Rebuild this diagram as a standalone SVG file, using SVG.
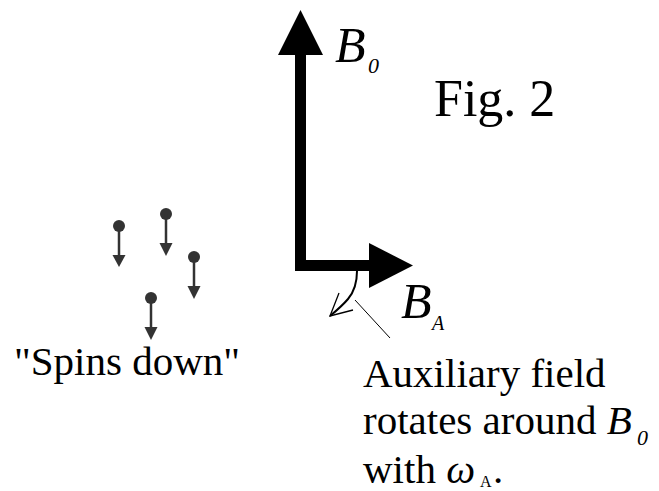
<svg xmlns="http://www.w3.org/2000/svg" width="659" height="491" viewBox="0 0 659 491">
<style>
.i{font-style:italic}
.spin{fill:#333;stroke:#333}
</style>
<rect width="659" height="491" fill="#fff"/>
<g id="connectors">
  <g id="B0-arrow">
    <rect x="295" y="54" width="11" height="217" fill="#000"/>
    <polygon points="300.5,10 278,55 323,55" fill="#000"/>
  </g>
  <g id="BA-arrow">
    <rect x="295" y="260" width="75" height="11" fill="#000"/>
    <polygon points="413,265.5 369,243 369,288" fill="#000"/>
  </g>
  <g id="rotation-arrow" fill="none" stroke="#000">
    <path d="M357,271 C357,283 354,292 348,299 C343,305 336,311 330,316" stroke-width="2"/>
    <path d="M339,293 L330,316 L353,310" stroke-width="1.3"/>
  </g>
  <line id="pointer" x1="355" y1="300" x2="390" y2="338" stroke="#000" stroke-width="1"/>
</g>
<g id="spins">
  <g id="spin1" class="spin">
    <circle cx="119" cy="226" r="6" stroke="none"/>
    <line x1="119" y1="226" x2="119" y2="256" stroke-width="2.5"/>
    <polygon points="112.5,255 125.5,255 119,267" stroke="none"/>
  </g>
  <g id="spin2" class="spin">
    <circle cx="166" cy="214" r="6" stroke="none"/>
    <line x1="166" y1="214" x2="166" y2="244" stroke-width="2.5"/>
    <polygon points="159.5,243 172.5,243 166,256" stroke="none"/>
  </g>
  <g id="spin3" class="spin">
    <circle cx="194" cy="257" r="6" stroke="none"/>
    <line x1="194" y1="257" x2="194" y2="287" stroke-width="2.5"/>
    <polygon points="187.5,286 200.5,286 194,299" stroke="none"/>
  </g>
  <g id="spin4" class="spin">
    <circle cx="151" cy="298" r="6" stroke="none"/>
    <line x1="151" y1="298" x2="151" y2="328" stroke-width="2.5"/>
    <polygon points="144.5,327 157.5,327 151,340" stroke="none"/>
  </g>
</g>
<g font-family="Liberation Serif, DejaVu Serif, serif" fill="#000">
<g id="label-B0">
  <text class="i" x="335" y="62" font-size="50">B</text>
  <text class="i" x="368" y="73" font-size="22">0</text>
</g>
<g id="label-BA">
  <text class="i" x="401" y="318" font-size="50">B</text>
  <text class="i" x="432" y="330" font-size="20">A</text>
</g>
<g id="fig-title">
  <text x="434" y="116" font-size="52">Fig. 2</text>
</g>
<g id="spins-label">
  <text x="14" y="375" font-size="41">"Spins down"</text>
</g>
<g id="aux-label">
  <text x="363" y="387" font-size="41">Auxiliary field</text>
  <text x="363" y="434" font-size="41">rotates around <tspan class="i">B</tspan></text>
  <text class="i" x="637" y="445" font-size="22">0</text>
  <text x="363" y="483" font-size="41">with <tspan class="i">ω</tspan></text>
  <text x="480" y="487" font-size="16">A</text>
  <text x="493" y="483" font-size="41">.</text>
</g>
</g>
</svg>
